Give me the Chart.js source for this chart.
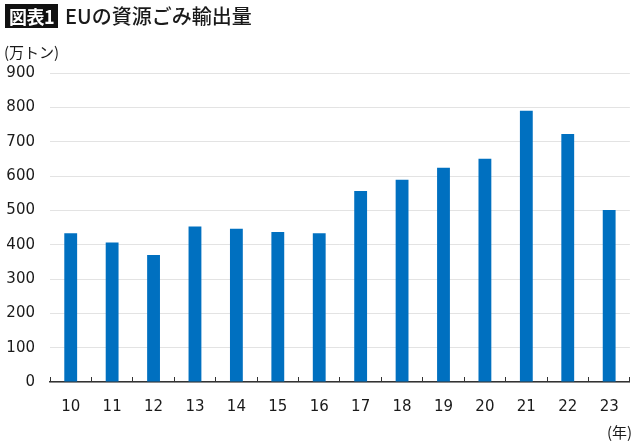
<!DOCTYPE html>
<html lang="ja">
<head>
<meta charset="utf-8">
<script src="https://cdn.jsdelivr.net/npm/chart.js@4.4.1/dist/chart.umd.min.js"></script>
<style>
  html, body { margin: 0; padding: 0; background: #fff; }
  #wrap { position: relative; width: 640px; height: 443px; overflow: hidden; }
  #chart { position: absolute; left: 0; top: 0; }
  .txt { position: absolute; white-space: nowrap; color: #1a1a1a; font-family: "Noto Sans CJK JP", sans-serif; }
  #tag { left: 5px; top: 4px; width: 53px; height: 24px; line-height: 24px; text-align: center; background: #111; color: #fff; font-size: 18px; font-weight: 700; letter-spacing: -0.5px; }
  #title { left: 65px; top: 3px; height: 25px; line-height: 25px; font-size: 20px; font-weight: 500; }
  #unit { left: 4px; top: 42px; font-size: 15px; line-height: 20px; }
  #year { left: 607px; top: 422px; font-size: 15px; line-height: 20px; }
</style>
</head>
<body>
<div id="wrap">
  <canvas id="chart" width="640" height="443"></canvas>
  <div class="txt" id="tag">図表1</div>
  <div class="txt" id="title">EUの資源ごみ輸出量</div>
  <div class="txt" id="unit">(万トン)</div>
  <div class="txt" id="year">(年)</div>
</div>
<script>
// 年（西暦下2桁）
const years = ["10", "11", "12", "13", "14", "15", "16", "17", "18", "19", "20", "21", "22", "23"];
// 輸出量（万トン）
const exportVolume = [433, 406, 370, 453, 446, 437, 433, 556, 589, 624, 650, 790, 722, 501];
// y軸目盛
const yMin = 0;
const yMax = 900;
const yStep = 100;

const numFont = {family: "DejaVu Sans", size: 15};

new Chart(document.getElementById("chart"), {
    type: "bar",
    data: {
        labels: years,
        datasets: [
            {
                data: exportVolume,
                backgroundColor: "#0070c0",
                borderWidth: 0,
                barPercentage: 0.31,
                categoryPercentage: 1,
            },
        ],
    },
    options: {
        responsive: false,
        animation: false,
        devicePixelRatio: 1,
        layout: {padding: {left: 0, right: 8, top: 73, bottom: 0}},
        plugins: {
            legend: {display: false},
            tooltip: {enabled: false},
        },
        scales: {
            x: {
                grid: {
                    offset: true,
                    drawOnChartArea: false,
                    drawTicks: true,
                    tickLength: -5,
                    color: "#333",
                    lineWidth: 1,
                },
                border: {color: "#333", width: 1.5},
                ticks: {font: numFont, color: "#1a1a1a", padding: 21, maxRotation: 0},
                afterFit(scale) {
                    scale.height = 61;
                },
            },
            y: {
                min: yMin,
                max: yMax,
                grid: {color: "#e3e3e3", lineWidth: 1, drawTicks: false},
                border: {display: false},
                ticks: {stepSize: yStep, font: numFont, color: "#1a1a1a", padding: 15},
                afterFit(scale) {
                    scale.width = 50;
                },
            },
        },
    },
});
</script>
</body>
</html>
